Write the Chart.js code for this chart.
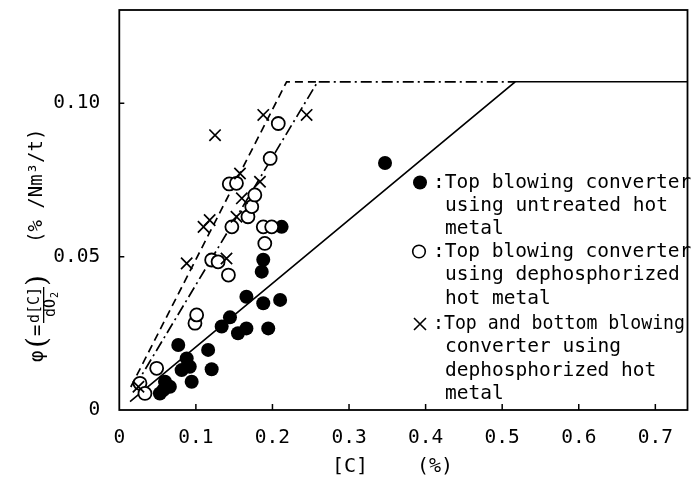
<!DOCTYPE html>
<html>
<head>
    <meta charset="utf-8">
    <script src="https://cdn.jsdelivr.net/npm/chart.js"></script>
    <style>
        body {
            margin: 0;
            background: #ffffff;
        }
        #wrap {
            width: 693px;
            height: 477px;
        }
    </style>
</head>
<body>
    <div id="wrap">
        <canvas id="phiChart" width="693" height="477"></canvas>
    </div>

    <script>
        // ● top blowing converter, untreated hot metal
        const untreatedC   = [0.053, 0.0575, 0.0597, 0.066, 0.077, 0.0814, 0.088, 0.092, 0.0945, 0.116, 0.1206, 0.1337, 0.1445, 0.155, 0.166, 0.166, 0.188, 0.1945, 0.21, 0.186, 0.188, 0.212, 0.347];
        const untreatedPhi = [0.0054, 0.0065, 0.0092, 0.0076, 0.0212, 0.013, 0.0168, 0.0141, 0.0092, 0.0196, 0.0133, 0.0272, 0.0302, 0.025, 0.0266, 0.0369, 0.0348, 0.0266, 0.0359, 0.0451, 0.049, 0.0597, 0.0805];

        // ○ top blowing converter, dephosphorized hot metal
        const dephosC   = [0.027, 0.0335, 0.0488, 0.0988, 0.101, 0.1206, 0.129, 0.1425, 0.147, 0.168, 0.173, 0.177, 0.1436, 0.153, 0.188, 0.199, 0.19, 0.197, 0.2076];
        const dephosPhi = [0.0087, 0.0054, 0.0136, 0.0283, 0.031, 0.0489, 0.0483, 0.044, 0.0597, 0.063, 0.0663, 0.0701, 0.0737, 0.0739, 0.0597, 0.0597, 0.0543, 0.082, 0.0934];

        // × top and bottom blowing converter, dephosphorized hot metal
        const topBottomC   = [0.025, 0.088, 0.11, 0.118, 0.14, 0.153, 0.16, 0.1576, 0.1837, 0.125, 0.188, 0.2446];
        const topBottomPhi = [0.0076, 0.0478, 0.0597, 0.0619, 0.0494, 0.063, 0.069, 0.0771, 0.0744, 0.0896, 0.0962, 0.0962];

        // fitted lines
        const solidC     = [0.014, 0.517, 0.742];
        const solidPhi   = [0.0027, 0.107, 0.107];
        const dashC      = [0.015, 0.2185, 0.259];
        const dashPhi    = [0.0075, 0.107, 0.107];
        const dashDotC   = [0.02, 0.259, 0.517];
        const dashDotPhi = [0.0075, 0.107, 0.107];

        // axes
        const xTicks = [0, 0.1, 0.2, 0.3, 0.4, 0.5, 0.6, 0.7];
        const xTickLabels = ['0', '0.1', '0.2', '0.3', '0.4', '0.5', '0.6', '0.7'];
        const yTicks = [0, 0.05, 0.10];
        const yTickLabels = ['0', '0.05', '0.10'];

        const legendLines = [
            ['●', ':Top blowing converter', 'using untreated hot', 'metal'],
            ['○', ':Top blowing converter', 'using dephosphorized', 'hot metal'],
            ['×', ':Top and bottom blowing', 'converter using', 'dephosphorized hot', 'metal']
        ];

        const MONO = '"DejaVu Sans Mono", monospace';

        function pts(xs, ys) {
            return xs.map((x, i) => ({ x: x, y: ys[i] }));
        }

        function noPad(s) {
            s.paddingTop = 0;
            s.paddingBottom = 0;
            s.paddingLeft = 0;
            s.paddingRight = 0;
        }

        const decorPlugin = {
            id: 'decor',
            afterDraw(chart) {
                const ctx = chart.ctx;
                const a = chart.chartArea;
                const xs = chart.scales.x;
                const ys = chart.scales.y;
                ctx.save();
                ctx.strokeStyle = '#000';
                ctx.fillStyle = '#000';

                // frame
                ctx.lineWidth = 1.8;
                ctx.strokeRect(a.left, a.top, a.right - a.left, a.bottom - a.top);

                // inward tick marks
                ctx.lineWidth = 1.5;
                ctx.beginPath();
                xTicks.slice(1).forEach(v => {
                    const px = xs.getPixelForValue(v);
                    ctx.moveTo(px, a.bottom);
                    ctx.lineTo(px, a.bottom - 6);
                });
                yTicks.slice(1).forEach(v => {
                    const py = ys.getPixelForValue(v);
                    ctx.moveTo(a.left, py);
                    ctx.lineTo(a.left + 5, py);
                });
                ctx.stroke();

                // legend
                ctx.textBaseline = 'middle';
                ctx.textAlign = 'left';
                ctx.font = '19.5px ' + MONO;
                const rowY = [182.5, 205.8, 229, 251.5, 275, 298.5, 324, 347.3, 370.5, 393.5];
                let r = 0;
                legendLines.forEach((item, k) => {
                    const my = rowY[r];
                    ctx.lineWidth = 1.6;
                    if (k === 0) {
                        ctx.beginPath();
                        ctx.arc(420, my, 7, 0, Math.PI * 2);
                        ctx.fill();
                    } else if (k === 1) {
                        ctx.beginPath();
                        ctx.arc(419, my, 6.3, 0, Math.PI * 2);
                        ctx.stroke();
                    } else {
                        ctx.beginPath();
                        ctx.moveTo(414, my - 6);
                        ctx.lineTo(426, my + 6);
                        ctx.moveTo(426, my - 6);
                        ctx.lineTo(414, my + 6);
                        ctx.stroke();
                    }
                    item.slice(1).forEach((line, j) => {
                        const x0 = j === 0 ? 433 : 445;
                        if (k === 2 && j === 0) {
                            ctx.fillText(line, x0, rowY[r], 252);
                        } else {
                            ctx.fillText(line, x0, rowY[r]);
                        }
                        r++;
                    });
                });

                // x title
                ctx.textAlign = 'center';
                ctx.font = '20px ' + MONO;
                ctx.fillText('[C]', 350, 467);
                ctx.fillText('(%)', 435, 467);

                // y title, rotated
                ctx.translate(38, 363);
                ctx.rotate(-Math.PI / 2);
                ctx.textAlign = 'left';
                ctx.font = '19px ' + MONO;
                ctx.fillText('φ', 1, 0);
                ctx.font = '28px "DejaVu Serif", serif';
                ctx.fillText('(', 15, 1);
                ctx.font = '19px ' + MONO;
                ctx.fillText('=', 27, 0);
                ctx.textAlign = 'center';
                ctx.font = '15px ' + MONO;
                ctx.fillText('d[C]', 58, -3);
                ctx.fillRect(40, 5, 36, 1.3);
                ctx.fillText('dO', 55, 13.5);
                ctx.font = '10px ' + MONO;
                ctx.fillText('2', 68, 17);
                ctx.textAlign = 'left';
                ctx.font = '28px "DejaVu Serif", serif';
                ctx.fillText(')', 77, 1);
                ctx.font = '19px ' + MONO;
                ctx.fillText('(% /Nm³/t)', 120, -1);

                ctx.restore();
            }
        };

        new Chart(document.getElementById('phiChart'), {
            type: 'scatter',
            data: {
                datasets: [
                    {
                        label: 'untreated',
                        data: pts(untreatedC, untreatedPhi),
                        pointStyle: 'circle',
                        pointRadius: 7,
                        backgroundColor: '#000',
                        borderColor: '#000',
                        borderWidth: 0,
                        order: 3
                    },
                    {
                        label: 'dephosphorized',
                        data: pts(dephosC, dephosPhi),
                        pointStyle: 'circle',
                        pointRadius: 6.5,
                        backgroundColor: '#fff',
                        borderColor: '#000',
                        borderWidth: 1.8,
                        order: 2
                    },
                    {
                        label: 'top and bottom',
                        data: pts(topBottomC, topBottomPhi),
                        pointStyle: 'crossRot',
                        pointRadius: 8,
                        borderColor: '#000',
                        borderWidth: 1.7,
                        order: 1
                    },
                    {
                        label: 'solid',
                        data: pts(solidC, solidPhi),
                        showLine: true,
                        pointRadius: 0,
                        borderColor: '#000',
                        borderWidth: 1.6,
                        order: 4
                    },
                    {
                        label: 'dashed',
                        data: pts(dashC, dashPhi),
                        showLine: true,
                        pointRadius: 0,
                        borderColor: '#000',
                        borderWidth: 1.7,
                        borderDash: [8, 5],
                        order: 4
                    },
                    {
                        label: 'dash-dot',
                        data: pts(dashDotC, dashDotPhi),
                        showLine: true,
                        pointRadius: 0,
                        borderColor: '#000',
                        borderWidth: 1.7,
                        borderDash: [11, 4, 2, 4],
                        order: 4
                    }
                ]
            },
            options: {
                responsive: false,
                animation: false,
                layout: {
                    autoPadding: false,
                    padding: { top: 10, right: 5.5, bottom: 0, left: 0 }
                },
                plugins: {
                    legend: { display: false },
                    tooltip: { enabled: false }
                },
                scales: {
                    x: {
                        type: 'linear',
                        min: 0,
                        max: 0.742,
                        grid: { display: false },
                        border: { display: false },
                        afterBuildTicks: s => { s.ticks = xTicks.map(v => ({ value: v })); },
                        afterFit: s => { s.height = 67; noPad(s); },
                        ticks: {
                            color: '#000',
                            padding: 8,
                            maxRotation: 0,
                            font: { family: MONO, size: 19.5 },
                            callback: (v, i) => xTickLabels[i]
                        }
                    },
                    y: {
                        type: 'linear',
                        min: 0,
                        max: 0.1304,
                        grid: { display: false },
                        border: { display: false },
                        afterBuildTicks: s => { s.ticks = yTicks.map(v => ({ value: v })); },
                        afterFit: s => { s.width = 119.3; noPad(s); },
                        ticks: {
                            color: '#000',
                            padding: 11,
                            font: { family: MONO, size: 19.5 },
                            callback: (v, i) => yTickLabels[i]
                        }
                    }
                }
            },
            plugins: [decorPlugin]
        });
    </script>
</body>
</html>
